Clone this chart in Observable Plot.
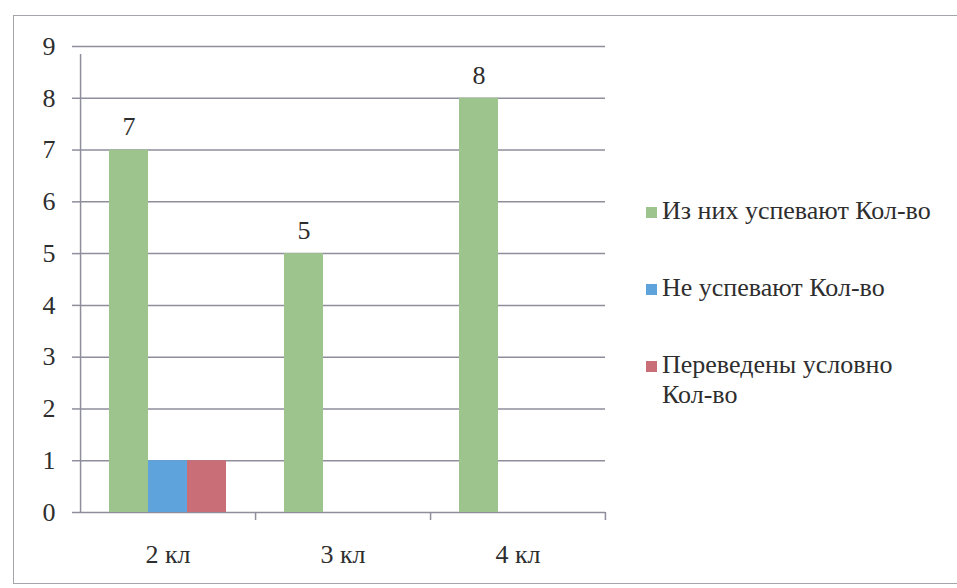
<!DOCTYPE html>
<html>
<head>
<meta charset="utf-8">
<script src="https://cdn.jsdelivr.net/npm/d3@7"></script>
<script src="https://cdn.jsdelivr.net/npm/@observablehq/plot@0.6"></script>
<style>
  html, body { margin: 0; padding: 0; background: #fff; }
  #wrap { position: relative; width: 957px; height: 588px; overflow: hidden; font-family: "Liberation Serif", "Times New Roman", Tinos, "DejaVu Serif", "Noto Serif", serif; }
  #frame { position: absolute; left: 13px; top: 15px; width: 960px; height: 569px; border: 1.5px solid #a4a4ac; box-sizing: border-box; }
  #chart { position: absolute; left: 0; top: 0; }
  #chart svg, #chart svg text { font-family: "Liberation Serif", "Times New Roman", Tinos, "DejaVu Serif", "Noto Serif", serif !important; }
  #legend { position: absolute; left: 646px; top: 196px; color: #2e2e2e; font-size: 26px; line-height: 30px; }
  .item { position: relative; padding-left: 16px; width: 300px; }
  .sw { position: absolute; left: 0; top: 11px; width: 11px; height: 11px; }
</style>
</head>
<body>
<div id="wrap">
  <div id="frame"></div>
  <div id="chart"></div>
  <div id="legend"></div>
</div>
<script>
const categories = ["2 кл", "3 кл", "4 кл"];
const seriesNames = ["Из них успевают Кол-во", "Не успевают Кол-во", "Переведены условно Кол-во"];
const seriesLegendLines = [["Из них успевают Кол-во"], ["Не успевают Кол-во"], ["Переведены условно", "Кол-во"]];
const seriesColors = ["#9cc48c", "#5ea3dc", "#c96d77"];
const successful = [7, 5, 8];
const failing = [1, 0, 0];
const conditional = [1, 0, 0];
const yTicks = [0, 1, 2, 3, 4, 5, 6, 7, 8, 9];

const valuesBySeries = [successful, failing, conditional];
const data = [];
categories.forEach((c, i) => {
  seriesNames.forEach((s, j) => data.push({cat: c, series: s, value: valuesBySeries[j][i]}));
});

const W = 957, H = 588, mL = 80, mR = 352, mT = 46, mB = 76;
const po = 0.74;
const facetW = (W - mL - mR) / categories.length;
const step = facetW / (seriesNames.length + 2 * po);
const edgeDx = -(po + 0.5) * step;
const rightDx = (po + 0.5) * step;
const gridColor = "#8e8e9c";
const serif = "'Liberation Serif', 'Times New Roman', Tinos, 'DejaVu Serif', serif";

const chart = Plot.plot({
  width: W, height: H,
  marginLeft: mL, marginRight: mR, marginTop: mT, marginBottom: mB,
  style: {fontFamily: serif, fontSize: "26px", color: "#2e2e2e", background: "transparent"},
  fx: {domain: categories, paddingInner: 0, paddingOuter: 0, label: null},
  x: {domain: seriesNames, paddingInner: 0, paddingOuter: po, axis: null},
  y: {domain: [0, 9], ticks: yTicks, label: null},
  color: {domain: seriesNames, range: seriesColors},
  marks: [
    Plot.ruleY(yTicks, {stroke: gridColor, strokeWidth: 1.5}),
    Plot.barY(data, {fx: "cat", x: "series", y: "value", fill: "series"}),
    Plot.text(data.filter(d => d.series === seriesNames[0]), {fx: "cat", x: "series", y: "value", text: d => String(d.value), dy: -23, fill: "#2e2e2e", fontSize: 26, fontFamily: serif}),
    Plot.ruleX([seriesNames[0]], {fx: () => categories[0], x: d => d, y1: 0, y2: 9, dx: edgeDx, stroke: gridColor, strokeWidth: 1.5, insetBottom: -8}),
    Plot.ruleX(categories.slice(1), {fx: d => d, x: () => seriesNames[0], y1: 0, y2: 0, dx: edgeDx, stroke: gridColor, strokeWidth: 1.5, insetBottom: -8}),
    Plot.ruleX([categories[categories.length - 1]], {fx: d => d, x: () => seriesNames[seriesNames.length - 1], y1: 0, y2: 0, dx: rightDx, stroke: gridColor, strokeWidth: 1.5, insetBottom: -8}),
    Plot.axisY({ticks: yTicks, tickSize: 8, tickPadding: 17, stroke: gridColor, strokeWidth: 1.5, fontSize: 26, fill: "#2e2e2e", fontFamily: serif, label: null}),
    Plot.axisFx({anchor: "bottom", tickSize: 0, tickPadding: 32, fontSize: 26, fill: "#2e2e2e", fontFamily: serif, label: null})
  ]
});
document.getElementById("chart").appendChild(chart);

const legend = document.getElementById("legend");
const gaps = [0, 47, 47];
seriesNames.forEach((s, j) => {
  const item = document.createElement("div");
  item.className = "item";
  item.style.marginTop = gaps[j] + "px";
  const sw = document.createElement("span");
  sw.className = "sw";
  sw.style.background = seriesColors[j];
  item.appendChild(sw);
  seriesLegendLines[j].forEach(line => {
    const l = document.createElement("div");
    l.textContent = line;
    item.appendChild(l);
  });
  legend.appendChild(item);
});
</script>
</body>
</html>
